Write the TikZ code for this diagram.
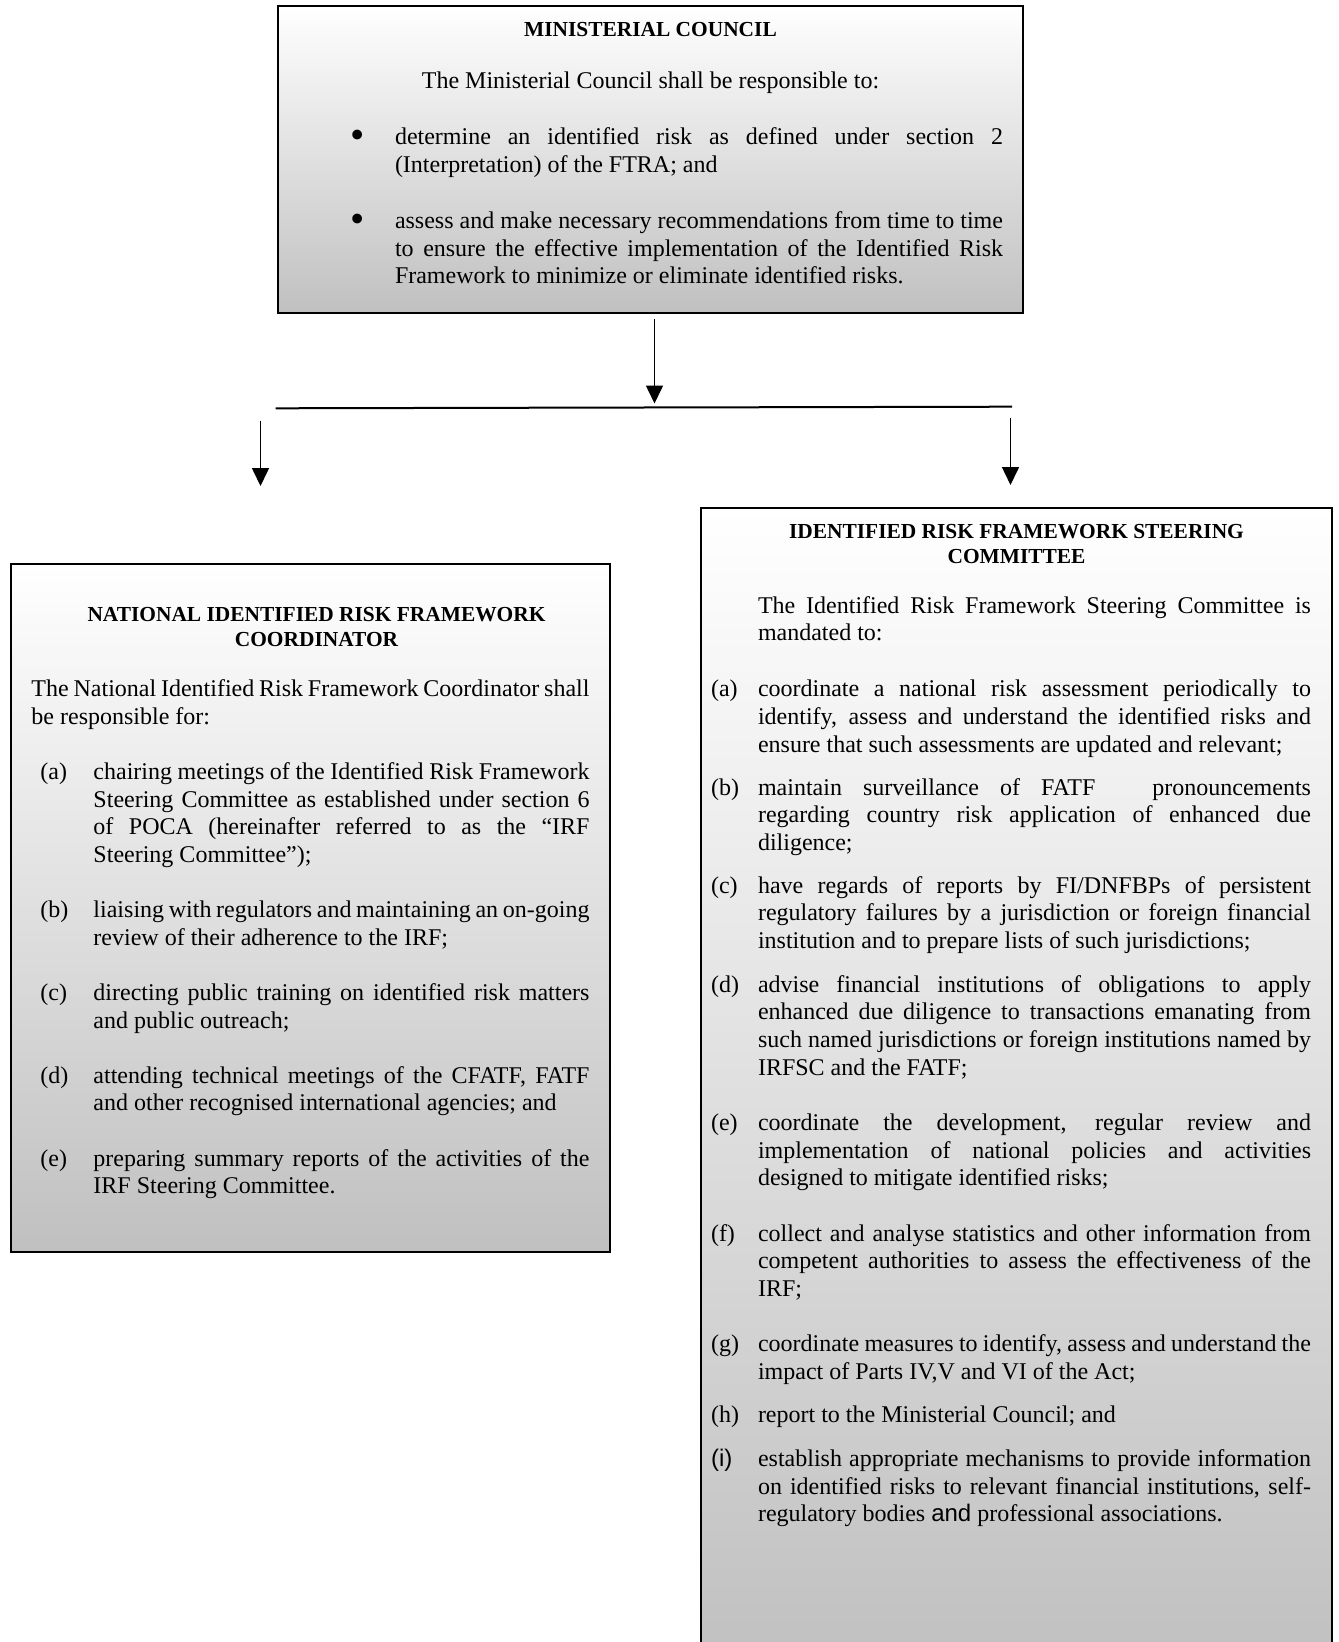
\documentclass[tikz,border=0pt]{standalone}
\usepackage{fontspec}
\usepackage{graphicx}
\setmainfont{Liberation Serif}
\newfontfamily\arialfont{Liberation Sans}
\usetikzlibrary{arrows.meta}

\definecolor{panelgray}{HTML}{C0C0C0}

\newlength{\itemshift}
\newlength{\labelgap}
\newcommand{\paneltitle}{\fontsize{10.7}{12.6}\selectfont\bfseries}
\newcommand{\panelbody}{\fontsize{12}{13.8}\selectfont\hyphenpenalty=10000\parindent=0pt\relax}
\newcommand{\duty}[2]{\par{\leftskip=\itemshift\noindent\llap{\makebox[\labelgap][l]{#1}}#2\par}}
\newcommand{\bigdot}{\raisebox{-0.4ex}{\scalebox{1.7}{\textbullet}}}

\begin{document}
\begin{tikzpicture}[x=0.5pt,y=-0.5pt,>={Triangle[length=9pt,width=8.5pt]},
                    panel/.style={draw,line width=1pt,top color=white,bottom color=panelgray,
                                  anchor=north west,inner ysep=0pt,align=justify,font=\panelbody},
                    flow/.style={->,line width=0.8pt}]

  \useasboundingbox (0,0) rectangle (1338,1642);

  % top box
  \node[panel,inner xsep=10pt,text width=352.5pt,text height=15.5pt,text depth=137.9pt] (council) at (277,5) {%
    {\centering\paneltitle MINISTERIAL COUNCIL\par}
    \vspace{11.75pt}
    {\centering The Ministerial Council shall be responsible to:\par}
    \vspace{14.4pt}
    \setlength{\itemshift}{48.5pt}\setlength{\labelgap}{22.5pt}%
    \duty{\bigdot}{determine an identified risk as defined under section 2\linebreak (Interpretation) of the FTRA; and}
    \vspace{14.4pt}
    \duty{\bigdot}{assess and make necessary recommendations from time to time\linebreak to ensure the effective implementation of the Identified Risk\linebreak Framework to minimize or eliminate identified risks.}
  };

  % left box
  \node[panel,inner xsep=10.25pt,text width=279pt,text height=28.6pt,text depth=315.3pt] (coordinator) at (10,563) {%
    {\centering\advance\leftskip by 6pt\paneltitle NATIONAL IDENTIFIED RISK FRAMEWORK\linebreak COORDINATOR\par}
    \vspace{11.25pt}
    The National Identified Risk Framework Coordinator shall\linebreak be responsible for:\par
    \vspace{13.85pt}
    \setlength{\itemshift}{31pt}\setlength{\labelgap}{26.5pt}%
    \duty{(a)}{chairing meetings of the Identified Risk Framework\linebreak Steering Committee as established under section 6\linebreak of POCA (hereinafter referred to as the “IRF\linebreak Steering Committee”);}
    \vspace{13.85pt}
    \duty{(b)}{liaising with regulators and maintaining an on-going\linebreak review of their adherence to the IRF;}
    \vspace{13.85pt}
    \duty{(c)}{directing public training on identified risk matters\linebreak and public outreach;}
    \vspace{13.85pt}
    \duty{(d)}{attending technical meetings of the CFATF, FATF\linebreak and other recognised international agencies; and}
    \vspace{13.85pt}
    \duty{(e)}{preparing summary reports of the activities of the\linebreak IRF Steering Committee.}
  };

  % right box
  \node[panel,inner xsep=10.5pt,text width=294.5pt,text height=15pt,text depth=565pt] (steering) at (700,507) {%
    {\centering\paneltitle IDENTIFIED RISK FRAMEWORK STEERING\linebreak COMMITTEE\par}
    \vspace{11.25pt}
    \setlength{\itemshift}{18pt}\setlength{\labelgap}{23.5pt}%
    {\leftskip=\itemshift The Identified Risk Framework Steering Committee is\linebreak mandated to:\par}
    \vspace{14.2pt}
    \duty{(a)}{coordinate a national risk assessment periodically to\linebreak identify, assess and understand the identified risks and\linebreak ensure that such assessments are updated and relevant;}
    \vspace{7.7pt}
    \duty{(b)}{maintain surveillance of FATF\hspace{1.5em} pronouncements\linebreak regarding country risk application of enhanced due\linebreak diligence;}
    \vspace{7.7pt}
    \duty{(c)}{have regards of reports by FI/DNFBPs of persistent\linebreak regulatory failures by a jurisdiction or foreign financial\linebreak institution and to prepare lists of such jurisdictions;}
    \vspace{8.1pt}
    \duty{(d)}{advise financial institutions of obligations to apply\linebreak enhanced due diligence to transactions emanating from\linebreak such named jurisdictions or foreign institutions named by\linebreak IRFSC and the FATF;}
    \vspace{13.9pt}
    \duty{(e)}{coordinate the development, regular review and\linebreak implementation of national policies and activities\linebreak designed to mitigate identified risks;}
    \vspace{13.9pt}
    \duty{(f)}{collect and analyse statistics and other information from\linebreak competent authorities to assess the effectiveness of the\linebreak IRF;}
    \vspace{13.9pt}
    \duty{(g)}{coordinate measures to identify, assess and understand the\linebreak impact of Parts IV,V and VI of the Act;}
    \vspace{7.9pt}
    \duty{(h)}{report to the Ministerial Council; and}
    \vspace{8.1pt}
    \duty{{\arialfont(i)}}{establish appropriate mechanisms to provide information\linebreak on identified risks to relevant financial institutions, self-\linebreak regulatory bodies {\arialfont and} professional associations.}
  };

  % connectors
  \coordinate (splitL) at (275.5,408.3);
  \coordinate (splitR) at (1012,406.7);
  \coordinate (leftFrom) at (260.5,420.7);
  \coordinate (leftTo) at (260.5,486);
  \coordinate (rightFrom) at (1010.5,418.3);
  \coordinate (rightTo) at (1010.5,485);

  \draw[flow] ([xshift=2pt,yshift=-2.75pt]council.south) -- ++(0,84.2);
  \draw[line width=1pt] (splitL) -- (splitR);
  \draw[flow] (leftFrom) -- (leftTo);
  \draw[flow] (rightFrom) -- (rightTo);
\end{tikzpicture}
\end{document}
